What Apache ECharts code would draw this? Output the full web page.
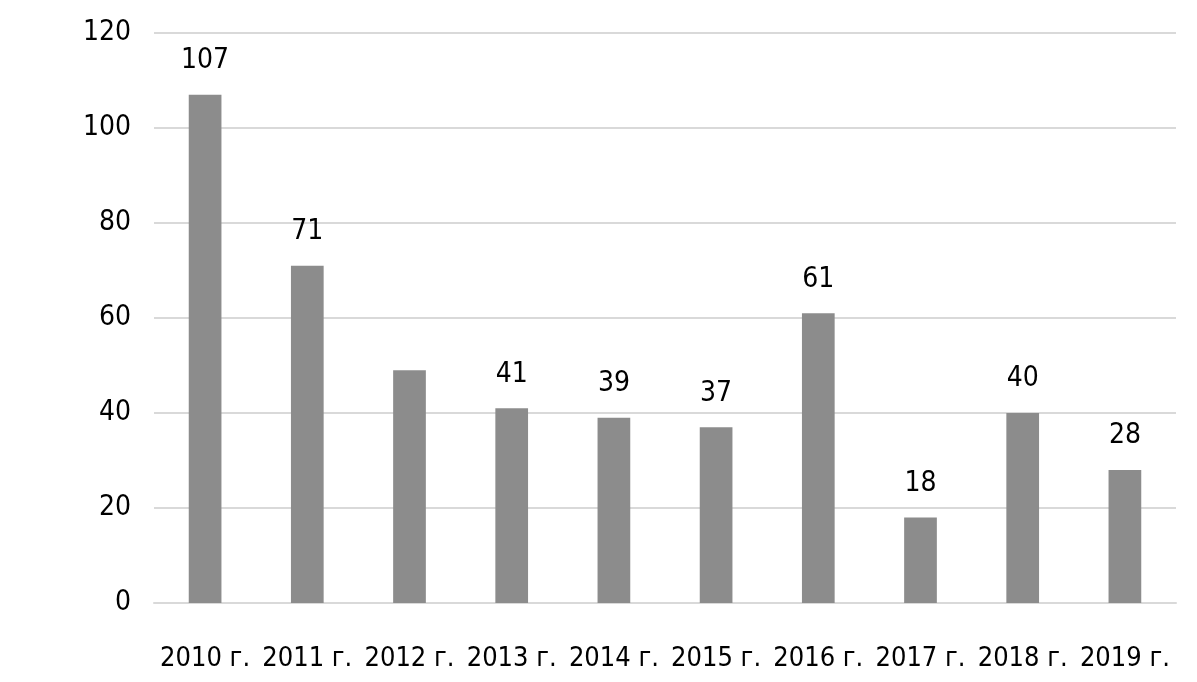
<!DOCTYPE html>
<html><head><meta charset="utf-8">
<script src="https://cdn.jsdelivr.net/npm/echarts@6/dist/echarts.min.js"></script>
<style>html,body{margin:0;padding:0;background:#fff}#c{width:1197px;height:682px}</style>
</head><body><div id="c"></div>
<script>
const categories = ['2010 г.','2011 г.','2012 г.','2013 г.','2014 г.','2015 г.','2016 г.','2017 г.','2018 г.','2019 г.'];
const values = [107, 71, 49, 41, 39, 37, 61, 18, 40, 28];
const hiddenLabels = ['2012 г.'];
const FONT = '"DejaVu Sans Condensed", "Liberation Sans Narrow", sans-serif';
const chart = echarts.init(document.getElementById('c'));
chart.setOption({
  animation: false,
  grid: {left: 154, right: 21, top: 33, bottom: 79},
  xAxis: {
    type: 'category', data: categories,
    axisLine: {lineStyle: {color: '#d9d9d9', width: 2}},
    axisTick: {show: false},
    axisLabel: {color: '#000', fontFamily: FONT, fontSize: 27, margin: 42, interval: 0}
  },
  yAxis: {
    type: 'value', min: 0, max: 120, interval: 20,
    axisLine: {show: false}, axisTick: {show: false},
    splitLine: {lineStyle: {color: '#d9d9d9', width: 2}},
    axisLabel: {color: '#000', fontFamily: FONT, fontSize: 28, margin: 23}
  },
  series: [{
    type: 'bar', barWidth: '32%',
    itemStyle: {color: '#8c8c8c'},
    label: {show: true, position: 'top', distance: 20, color: '#000', fontFamily: FONT, fontSize: 28},
    data: values.map((v, i) => hiddenLabels.includes(categories[i]) ? {value: v, label: {show: false}} : v)
  }]
});
</script></body></html>
